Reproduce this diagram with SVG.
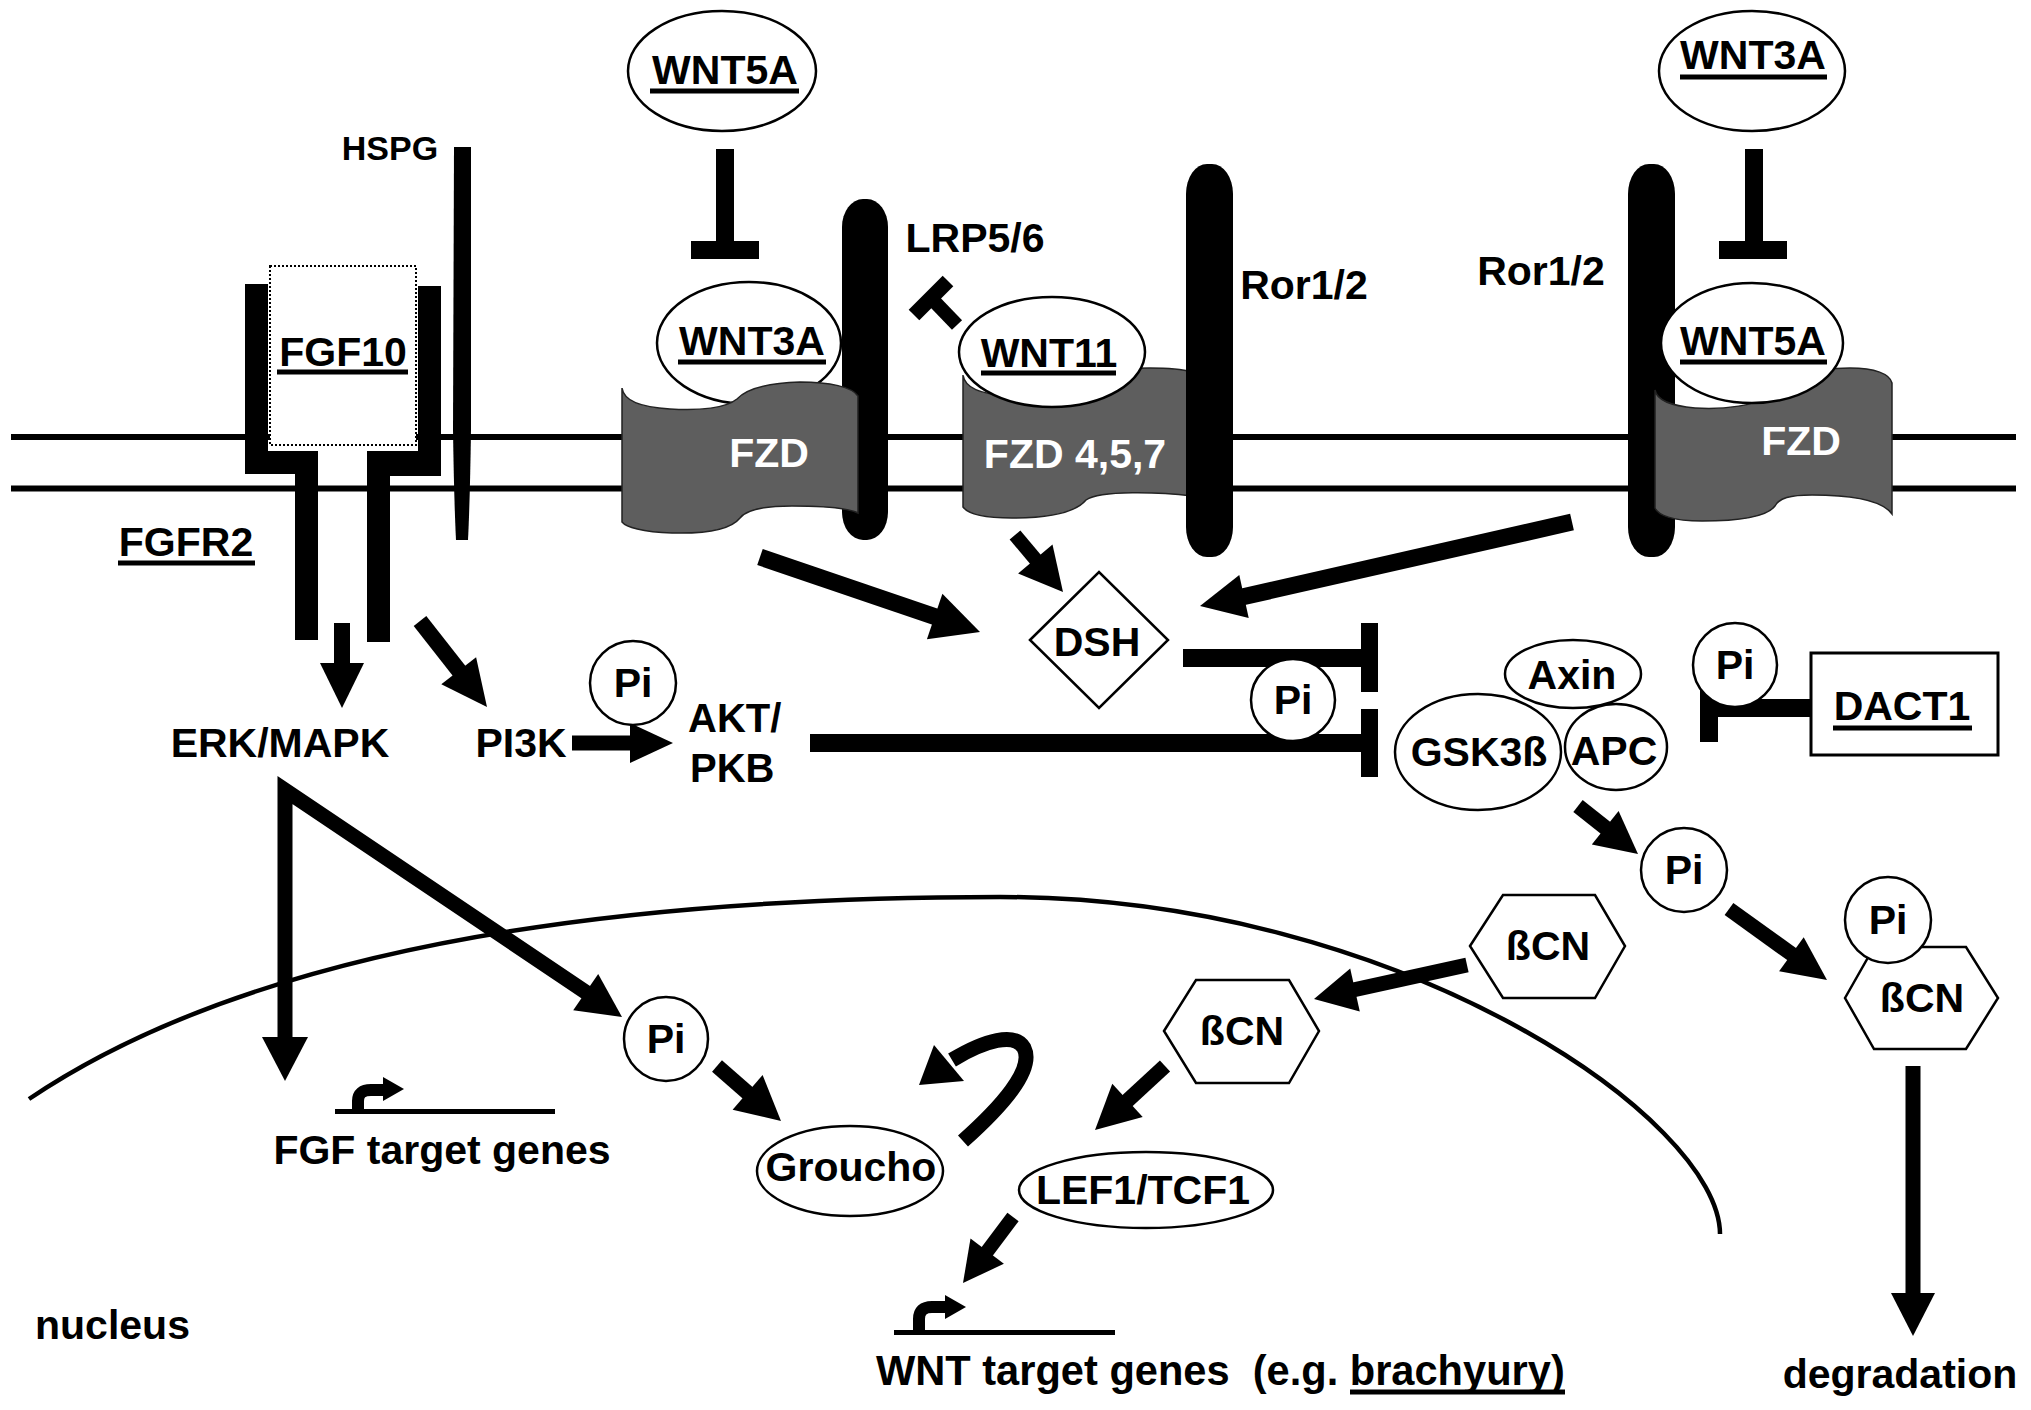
<svg xmlns="http://www.w3.org/2000/svg" width="2031" height="1410" viewBox="0 0 2031 1410">
<style>
.t{font-family:"Liberation Sans",Arial,Helvetica,sans-serif;font-weight:bold;font-size:41px;text-anchor:middle;fill:#000}
.w{fill:#fff}
.node{fill:#fff;stroke:#000;stroke-width:2.5}
.fzd{fill:#5e5e5e;stroke:#222;stroke-width:1.5}
.bar{fill:#000}
.c{stroke:#000;fill:none;stroke-linecap:butt}
.hd{fill:#000}
.ul{stroke:#000;stroke-width:5}
.mem{stroke:#000;stroke-width:6}
</style>
<rect width="2031" height="1410" fill="#fff"/>
<g id="membrane">
<line class="mem" x1="11" y1="437" x2="2016" y2="437"/>
<line class="mem" x1="11" y1="488.5" x2="2016" y2="488.5"/>
</g>
<g id="nuclear-envelope">
<path d="M 29 1099 C 250 950, 600 897, 1000 897 C 1400 897, 1720 1120, 1720 1234" fill="none" stroke="#000" stroke-width="4.5"/>
<text class="t" x="35" y="1339" style="text-anchor:start">nucleus</text>
</g>
<g id="connectors">
<!-- inhibitions -->
<rect class="bar" x="716" y="149" width="18" height="92"/>
<rect class="bar" x="691" y="241" width="68" height="18"/>
<rect class="bar" x="1745" y="149" width="18" height="92"/>
<rect class="bar" x="1719" y="241" width="68" height="18"/>
<line class="c" x1="957" y1="325" x2="931" y2="298" stroke-width="14"/>
<line class="c" x1="914" y1="315" x2="948" y2="281" stroke-width="15"/>
<rect class="bar" x="1183" y="649" width="180" height="18"/>
<rect class="bar" x="1361" y="623" width="17" height="69"/>
<rect class="bar" x="810" y="734" width="553" height="18"/>
<rect class="bar" x="1361" y="709" width="17" height="68"/>
<rect class="bar" x="1717" y="699" width="94" height="18"/>
<rect class="bar" x="1700" y="680" width="18" height="62"/>
<!-- FGFR2 -> ERK -->
<line class="c" x1="342" y1="623" x2="342" y2="665" stroke-width="16"/>
<polygon class="hd" points="320,663 342,708 364,663"/>
<!-- FGFR2 -> PI3K -->
<line class="c" x1="420" y1="621" x2="460" y2="672" stroke-width="16"/>
<polygon class="hd" points="441.3,684.2 487,707 476.1,657.2"/>
<!-- PI3K -> AKT -->
<line class="c" x1="572" y1="743" x2="632" y2="743" stroke-width="15"/>
<polygon class="hd" points="630,723 673,743 630,763"/>
<!-- ERK -> FGF target genes / Pi -->
<polyline class="c" points="285,1039 285,790 587,993" stroke-width="15" stroke-linejoin="miter"/>
<polygon class="hd" points="262,1037 285,1081 308,1037"/>
<polygon class="hd" points="573.2,1010.2 622,1017 598.2,974"/>
<!-- Pi -> Groucho -->
<line class="c" x1="717" y1="1066" x2="749" y2="1094" stroke-width="15"/>
<polygon class="hd" points="732.6,1109.7 781,1121 762.6,1074.9"/>
<!-- FZD -> DSH -->
<line class="c" x1="760" y1="557" x2="936" y2="617" stroke-width="17"/>
<polygon class="hd" points="926.9,639.2 980,632 942.4,593.8"/>
<!-- FZD 4,5,7 -> DSH -->
<line class="c" x1="1015" y1="535" x2="1036" y2="560" stroke-width="14"/>
<polygon class="hd" points="1018.1,573.6 1063,592 1052.5,544.6"/>
<!-- FZD (right) -> DSH -->
<line class="c" x1="1572" y1="522" x2="1242" y2="597" stroke-width="17"/>
<polygon class="hd" points="1239.3,574.9 1200,606 1248.7,617.9"/>
<!-- GSK3b -> Pi -->
<line class="c" x1="1578" y1="806" x2="1607" y2="829" stroke-width="15"/>
<polygon class="hd" points="1591.8,844.5 1638,854 1618.6,810.9"/>
<!-- Pi -> Pi/bCN -->
<line class="c" x1="1729" y1="909" x2="1793" y2="955" stroke-width="15"/>
<polygon class="hd" points="1779.1,971.2 1827,980 1803.7,937.2"/>
<!-- bCN -> degradation -->
<line class="c" x1="1913" y1="1066" x2="1913" y2="1295" stroke-width="15"/>
<polygon class="hd" points="1891,1293 1913,1336 1935,1293"/>
<!-- bCN -> bCN (nucleus) -->
<line class="c" x1="1467" y1="965" x2="1353" y2="990" stroke-width="15"/>
<polygon class="hd" points="1350.2,968.4 1314,999 1359.8,1011.4"/>
<!-- bCN -> LEF1/TCF1 -->
<line class="c" x1="1165" y1="1066" x2="1126" y2="1102" stroke-width="15"/>
<polygon class="hd" points="1112.3,1083.7 1095,1130 1142.7,1116.9"/>
<!-- LEF1/TCF1 -> WNT target genes -->
<line class="c" x1="1013" y1="1217" x2="986" y2="1253" stroke-width="14"/>
<polygon class="hd" points="970.5,1238.4 963,1283 1003.9,1263.8"/>
<!-- Groucho feedback curved arrow -->
<path class="c" d="M 963 1141 C 1000 1108, 1035 1070, 1024 1048 C 1015 1032, 985 1040, 952 1060" stroke-width="15"/>
<polygon class="hd" points="919,1085 934,1045 964,1081"/>
</g>
<g id="HSPG">
<path d="M 454 147 L 471 147 L 471 430 Q 470 500 468 540 L 456 540 Q 454 500 453 430 Z" fill="#000"/>
<text class="t" x="390" y="160" style="font-size:34px">HSPG</text>
</g>
<g id="FGFR2">
<polygon class="bar" points="245,284 268,284 268,451 318,451 318,640 295,640 295,474 245,474"/>
<polygon class="bar" points="418,286 441,286 441,476 390,476 390,642 367,642 367,451 418,451"/>
<text class="t" x="186" y="556">FGFR2</text>
<line class="ul" x1="118" y1="563" x2="255" y2="563"/>
</g>
<g id="FGF10">
<rect x="270" y="266" width="146" height="179" fill="#fff" stroke="#000" stroke-width="2" stroke-dasharray="2 2"/>
<text class="t" x="343" y="366">FGF10</text>
<line class="ul" x1="277" y1="372" x2="408" y2="372"/>
</g>
<g id="WNT5A-top">
<ellipse class="node" cx="722" cy="71" rx="94" ry="60"/>
<text class="t" x="725" y="84">WNT5A</text>
<line class="ul" x1="650" y1="91" x2="799" y2="91"/>
</g>
<g id="LRP56">
<rect x="842" y="199" width="46" height="341" rx="21" ry="28" fill="#000"/>
<text class="t" x="975" y="252">LRP5/6</text>
</g>
<g id="WNT3A-left">
<ellipse class="node" cx="749" cy="343" rx="92" ry="61"/>
<text class="t" x="752" y="355">WNT3A</text>
<line class="ul" x1="678" y1="362" x2="826" y2="362"/>
</g>
<g id="FZD-left">
<path class="fzd" d="M 622 388 C 624 401, 640 407, 670 409 C 700 411, 726 408, 737 399 C 746 389, 766 383, 800 382 C 830 382, 852 387, 858 396 L 858 513 C 848 508, 820 506, 792 506 C 764 506, 746 510, 740 518 C 732 528, 710 534, 672 533 C 642 532, 626 527, 622 522 Z"/>
<text class="t w" x="769" y="467">FZD</text>
</g>
<g id="FZD457">
<path class="fzd" d="M 963 375 C 965 388, 980 394, 1008 396 C 1040 398, 1066 393, 1076 384 C 1088 372, 1112 368, 1150 368 C 1170 368, 1185 370, 1192 372 L 1192 496 C 1160 492, 1100 490, 1086 500 C 1076 512, 1050 518, 1012 518 C 985 518, 968 514, 963 507 Z"/>
<text class="t w" x="1075" y="468">FZD 4,5,7</text>
</g>
<g id="WNT11">
<ellipse class="node" cx="1052" cy="352" rx="93" ry="55"/>
<text class="t" x="1049" y="367">WNT11</text>
<line class="ul" x1="981" y1="373" x2="1116" y2="373"/>
</g>
<g id="Ror-middle">
<rect x="1186" y="164" width="47" height="393" rx="21" ry="30" fill="#000"/>
<text class="t" x="1304" y="299">Ror1/2</text>
</g>
<g id="Ror-right">
<rect x="1628" y="164" width="47" height="393" rx="21" ry="30" fill="#000"/>
<text class="t" x="1541" y="285">Ror1/2</text>
</g>
<g id="FZD-right">
<path class="fzd" d="M 1655 390 C 1657 401, 1672 406, 1695 408 C 1725 410, 1757 405, 1768 396 C 1780 380, 1810 368, 1850 368 C 1875 368, 1890 374, 1892 383 L 1892 514 C 1882 500, 1850 495, 1812 495 C 1790 495, 1779 498, 1775 506 C 1766 518, 1735 521, 1702 521 C 1672 521, 1658 515, 1655 508 Z"/>
<text class="t w" x="1801" y="455">FZD</text>
</g>
<g id="WNT5A-right">
<ellipse class="node" cx="1752" cy="343" rx="91" ry="60"/>
<text class="t" x="1753" y="355">WNT5A</text>
<line class="ul" x1="1680" y1="362" x2="1827" y2="362"/>
</g>
<g id="WNT3A-top">
<ellipse class="node" cx="1752" cy="71" rx="93" ry="60"/>
<text class="t" x="1753" y="69">WNT3A</text>
<line class="ul" x1="1680" y1="77" x2="1827" y2="77"/>
</g>
<g id="DSH">
<polygon class="node" points="1030,640 1099,572 1168,640 1099,708"/>
<text class="t" x="1097" y="656">DSH</text>
</g>
<g id="ERK-MAPK">
<text class="t" x="280" y="757">ERK/MAPK</text>
</g>
<g id="PI3K">
<text class="t" x="521" y="757">PI3K</text>
</g>
<g id="AKT-PKB">
<text class="t" x="688" y="732" style="text-anchor:start;font-size:40px">AKT/</text>
<text class="t" x="690" y="782" style="text-anchor:start;font-size:40px">PKB</text>
</g>
<g id="Pi-AKT">
<ellipse class="node" cx="633" cy="683" rx="43" ry="42"/>
<text class="t" x="633" y="697">Pi</text>
</g>
<g id="Pi-DSH">
<ellipse class="node" cx="1293" cy="700" rx="42" ry="41"/>
<text class="t" x="1293" y="714">Pi</text>
</g>
<g id="Axin">
<ellipse class="node" cx="1573" cy="674" rx="68" ry="34"/>
<text class="t" x="1572" y="689">Axin</text>
</g>
<g id="GSK3b">
<ellipse class="node" cx="1478" cy="752" rx="83" ry="58"/>
<text class="t" x="1479" y="766">GSK3ß</text>
</g>
<g id="APC">
<ellipse class="node" cx="1616" cy="747" rx="51" ry="43"/>
<text class="t" x="1614" y="765">APC</text>
</g>
<g id="Pi-DACT1">
<ellipse class="node" cx="1735" cy="665" rx="42" ry="42"/>
<text class="t" x="1735" y="679">Pi</text>
</g>
<g id="DACT1">
<rect x="1811" y="653" width="187" height="102" fill="#fff" stroke="#000" stroke-width="3"/>
<text class="t" x="1902" y="720">DACT1</text>
<line class="ul" x1="1833" y1="728" x2="1972" y2="728"/>
</g>
<g id="Pi-GSK">
<ellipse class="node" cx="1684" cy="870" rx="43" ry="42"/>
<text class="t" x="1684" y="884">Pi</text>
</g>
<g id="bCN-right">
<polygon class="node" points="1845,998 1874,947 1966,947 1998,998 1966,1049 1874,1049"/>
<text class="t" x="1922" y="1012">ßCN</text>
</g>
<g id="Pi-bCN">
<ellipse class="node" cx="1888" cy="920" rx="43" ry="43"/>
<text class="t" x="1888" y="934">Pi</text>
</g>
<g id="bCN-cytoplasm">
<polygon class="node" points="1470,946 1503,895 1595,895 1625,946 1595,998 1503,998"/>
<text class="t" x="1548" y="960">ßCN</text>
</g>
<g id="bCN-nucleus">
<polygon class="node" points="1164,1031 1196,980 1289,980 1319,1031 1289,1083 1196,1083"/>
<text class="t" x="1242" y="1045">ßCN</text>
</g>
<g id="Pi-nucleus">
<ellipse class="node" cx="666" cy="1039" rx="42" ry="42"/>
<text class="t" x="666" y="1053">Pi</text>
</g>
<g id="Groucho">
<ellipse class="node" cx="850" cy="1171" rx="93" ry="45"/>
<text class="t" x="851" y="1181">Groucho</text>
</g>
<g id="LEF1-TCF1">
<ellipse class="node" cx="1146" cy="1190" rx="127" ry="38"/>
<text class="t" x="1143" y="1204">LEF1/TCF1</text>
</g>
<g id="FGF-target-genes">
<line x1="335" y1="1111.5" x2="555" y2="1111.5" stroke="#000" stroke-width="5"/>
<path d="M 358 1112 L 358 1101 Q 358 1090 371 1090 L 386 1090" fill="none" stroke="#000" stroke-width="12"/>
<polygon class="hd" points="383,1077 404,1089 383,1101"/>
<text class="t" x="442" y="1164">FGF target genes</text>
</g>
<g id="WNT-target-genes">
<line x1="894" y1="1332.5" x2="1115" y2="1332.5" stroke="#000" stroke-width="5"/>
<path d="M 919 1333 L 919 1319 Q 919 1307 932 1307 L 947 1307" fill="none" stroke="#000" stroke-width="12"/>
<polygon class="hd" points="945,1295 966,1307 945,1319"/>
<text class="t" x="876" y="1385" style="text-anchor:start;font-size:41.6px;white-space:pre" xml:space="preserve">WNT target genes  (e.g. brachyury)</text>
<line class="ul" x1="1350" y1="1392" x2="1565" y2="1392"/>
</g>
<g id="degradation">
<text class="t" x="1900" y="1388">degradation</text>
</g>
</svg>
